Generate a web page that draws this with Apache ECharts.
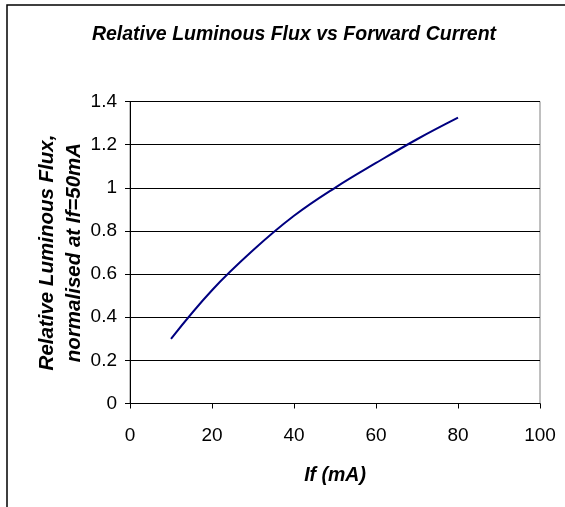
<!DOCTYPE html>
<html>
<head>
<meta charset="utf-8">
<script src="https://cdn.jsdelivr.net/npm/echarts@6/dist/echarts.min.js"></script>
<style>
html,body{margin:0;padding:0;background:#fff;}
#c{width:565px;height:507px;}
</style>
</head>
<body>
<div id="c"></div>
<script>
const currents = [10, 20, 30, 40, 50, 60, 70, 80];
const flux = [0.30, 0.525, 0.71, 0.87, 1.0, 1.115, 1.225, 1.325];
const titleText = 'Relative Luminous Flux vs Forward Current';
const xName = 'If (mA)';
const yName = 'Relative Luminous Flux,\nnormalised at If=50mA';

const font = 'Liberation Sans, Arial, sans-serif';
const chart = echarts.init(document.getElementById('c'), null, {renderer: 'canvas'});
chart.setOption({
  animation: false,
  backgroundColor: '#fff',
  title: {
    text: titleText,
    left: 289, top: 20, textAlign: 'center',
    textStyle: {fontFamily: font, fontSize: 19.5, fontWeight: 'bold', fontStyle: 'italic', color: '#000'}
  },
  graphic: [{
    type: 'rect', z: -1, silent: true,
    shape: {x: 7, y: 5, width: 700, height: 700},
    style: {fill: 'transparent', stroke: '#000', lineWidth: 1.5}
  }],
  grid: {left: 130, top: 101.5, right: 25, bottom: 103.5, show: true, borderColor: '#808080', borderWidth: 1, backgroundColor: 'transparent'},
  xAxis: {
    type: 'value', min: 0, max: 100, interval: 20,
    name: xName, nameLocation: 'middle', nameGap: 62, nameMoveOverlap: false,
    nameTextStyle: {fontFamily: font, fontSize: 19.5, fontWeight: 'bold', fontStyle: 'italic', color: '#000'},
    axisLine: {show: true, lineStyle: {color: '#000', width: 1}},
    axisTick: {show: true, inside: false, length: 5, lineStyle: {color: '#000'}},
    axisLabel: {fontFamily: font, fontSize: 19, color: '#000', margin: 22.5},
    splitLine: {show: false}
  },
  yAxis: {
    type: 'value', min: 0, max: 1.4, interval: 0.2,
    name: yName, nameLocation: 'middle', nameGap: 42, nameRotate: 90, nameMoveOverlap: false,
    nameTextStyle: {fontFamily: font, fontSize: 20.5, fontWeight: 'bold', fontStyle: 'italic', color: '#000', lineHeight: 27, align: 'center'},
    axisLine: {show: true, lineStyle: {color: '#000', width: 1}},
    axisTick: {show: true, inside: false, length: 5, lineStyle: {color: '#000'}},
    axisLabel: {fontFamily: font, fontSize: 19, color: '#000', margin: 13,
      formatter: v => String(Math.round(v * 10) / 10)},
    splitLine: {show: true, lineStyle: {color: '#000', width: 1}}
  },
  series: [{
    type: 'line', smooth: 0.4, showSymbol: false,
    data: currents.map((c, i) => [c, flux[i]]),
    lineStyle: {color: '#000080', width: 2}
  }]
});
</script>
</body>
</html>
